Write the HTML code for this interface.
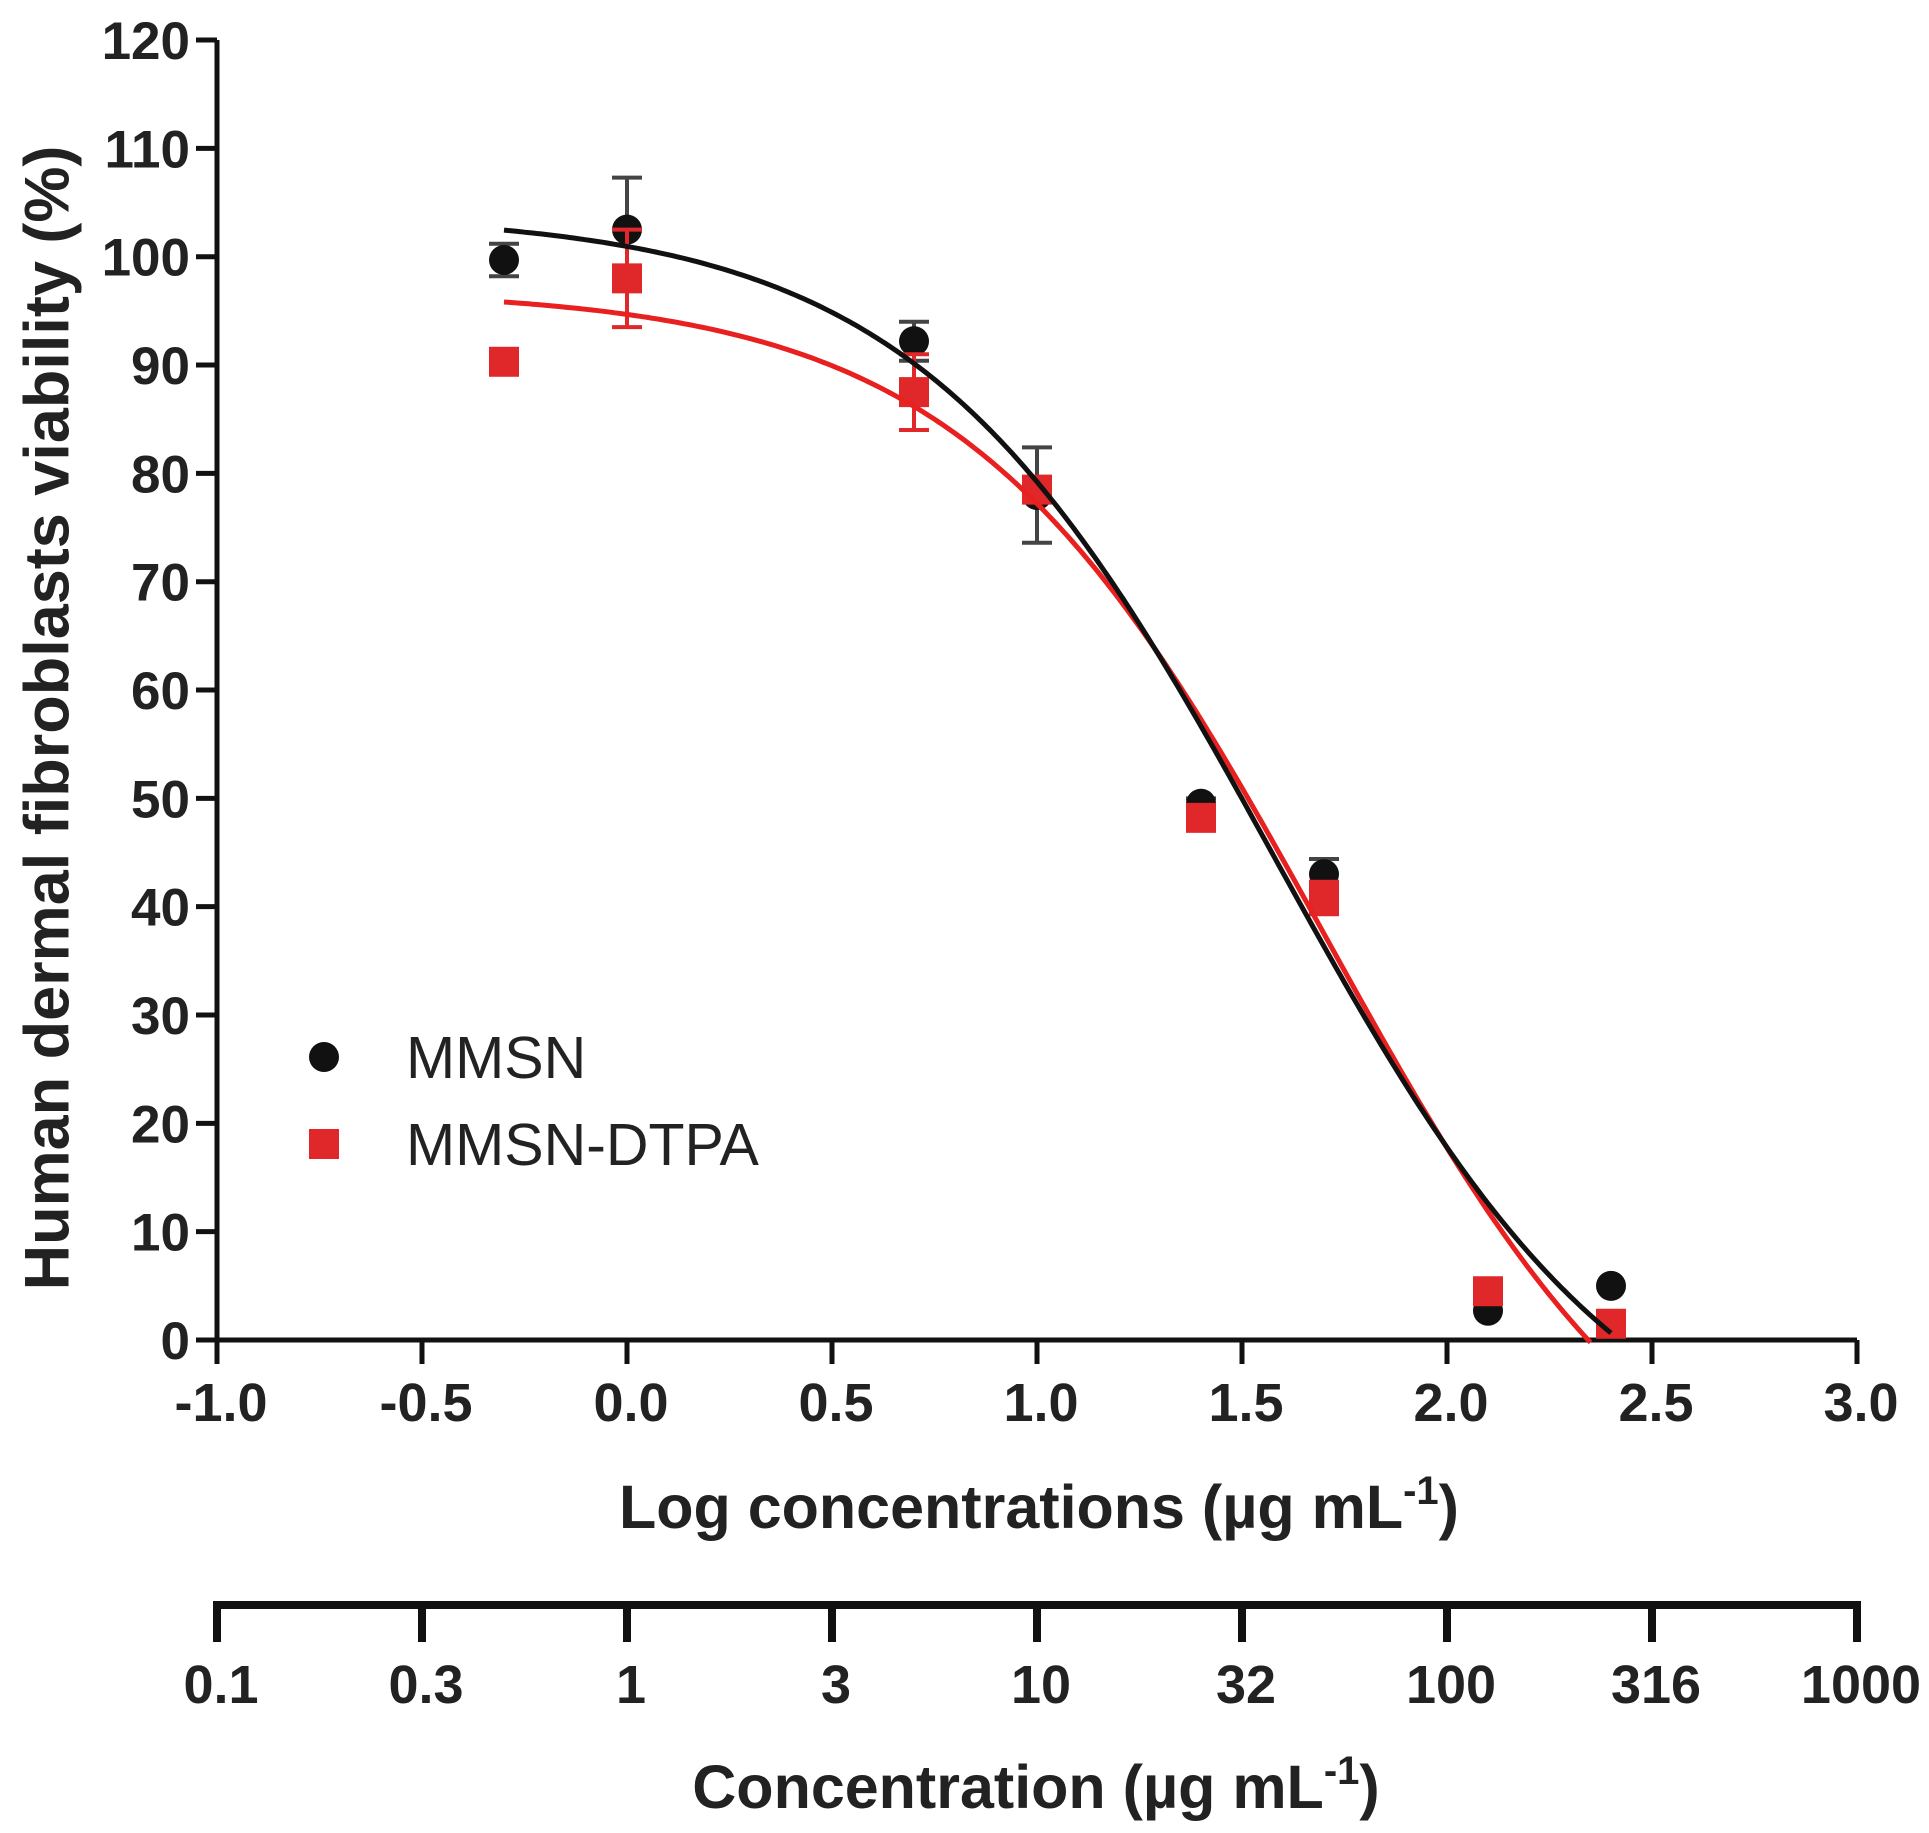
<!DOCTYPE html>
<html><head><meta charset="utf-8"><style>
html,body{margin:0;padding:0;background:#fff;}
svg{display:block;}
text{font-family:"Liberation Sans",Arial,sans-serif;}
</style></head><body>
<svg id="s" width="1929" height="1833" viewBox="0 0 1929 1833" xmlns="http://www.w3.org/2000/svg">
<rect width="1929" height="1833" fill="#fff"/>
<g id="g"></g>
<text x="52" y="718" transform="rotate(-90 52 718)" text-anchor="middle" dominant-baseline="middle" font-size="63" font-weight="bold" fill="#222">Human dermal fibroblasts viability (%)</text>
<text x="1039" y="1528" text-anchor="middle" font-size="61" font-weight="bold" fill="#222">Log concentrations (µg mL<tspan dy="-24" font-size="40">-1</tspan><tspan dy="24">)</tspan></text>
<text x="1036" y="1808" text-anchor="middle" font-size="61" font-weight="bold" fill="#222">Concentration (µg mL<tspan dy="-24" font-size="40">-1</tspan><tspan dy="24">)</tspan></text>
<circle cx="324" cy="1057" r="15" fill="#111"/>
<rect x="309" y="1129" width="30" height="30" fill="#e0282a"/>
<text x="406" y="1078" font-size="59" fill="#222">MMSN</text>
<text x="406" y="1165" font-size="59" fill="#222">MMSN-DTPA</text>
</svg>
<script>
var g=document.getElementById('g'),h='';
function X(v){return 217+(v+1)*410;}
function Y(v){return 1340-v*10.833;}
h+='<line x1="217" y1="40" x2="217" y2="1343" stroke="#111" stroke-width="5"/>';
for(var i=0;i<=12;i++){var y=Y(i*10);h+='<line x1="196" y1="'+y+'" x2="217" y2="'+y+'" stroke="#111" stroke-width="5"/>';
h+='<text x="190" y="'+(y+19)+'" text-anchor="end" font-size="53" font-weight="bold" fill="#222">'+(i*10)+'</text>';}
h+='<line x1="196" y1="1340" x2="1857" y2="1340" stroke="#111" stroke-width="5"/>';
var xl=['-1.0','-0.5','0.0','0.5','1.0','1.5','2.0','2.5','3.0'];
for(var i=0;i<9;i++){var x=X(-1+i*0.5);h+='<line x1="'+x+'" y1="1340" x2="'+x+'" y2="1364" stroke="#111" stroke-width="5"/>';
h+='<text x="'+(x+4)+'" y="1421" text-anchor="middle" font-size="54" font-weight="bold" fill="#222">'+xl[i]+'</text>';}
h+='<line x1="217" y1="1605" x2="1857" y2="1605" stroke="#111" stroke-width="8"/>';
var bl=['0.1','0.3','1','3','10','32','100','316','1000'];
for(var i=0;i<9;i++){var x=X(-1+i*0.5);h+='<line x1="'+x+'" y1="1601" x2="'+x+'" y2="1642" stroke="#111" stroke-width="8"/>';
h+='<text x="'+(x+4)+'" y="1703" text-anchor="middle" font-size="54" font-weight="bold" fill="#222">'+bl[i]+'</text>';}
function curve(t,b,x0,hh,x1,x2,c){var p='';for(var x=x1;x<=x2+1e-9;x+=0.01){var y=b+(t-b)/(1+Math.pow(10,(x-x0)*hh));p+=(p?'L':'M')+X(x).toFixed(1)+','+Y(y).toFixed(1);}
return '<path d="'+p+'" fill="none" stroke="'+c+'" stroke-width="5"/>';}
function eb(x,y,e,c){var xx=X(x),y1=Y(y+e),y2=Y(y-e);return '<line x1="'+xx+'" y1="'+y1+'" x2="'+xx+'" y2="'+y2+'" stroke="'+c+'" stroke-width="4"/><line x1="'+(xx-15)+'" y1="'+y1+'" x2="'+(xx+15)+'" y2="'+y1+'" stroke="'+c+'" stroke-width="4"/><line x1="'+(xx-15)+'" y1="'+y2+'" x2="'+(xx+15)+'" y2="'+y2+'" stroke="'+c+'" stroke-width="4"/>';}
var M=[[-0.3,99.7,1.5],[0,102.5,4.8],[0.7,92.2,1.8],[1,78,4.4],[1.4,49.5,0.5],[1.7,43,1.4],[2.1,2.7,0],[2.4,5,0]];
var D=[[-0.3,90.3,0],[0,98,4.5],[0.7,87.5,3.5],[1,78.5,1],[1.4,48.2,0.5],[1.7,40.8,1.5],[2.1,4.5,0],[2.4,1.5,0]];
M.forEach(function(d){if(d[2])h+=eb(d[0],d[1],d[2],'#444');});
M.forEach(function(d){h+='<circle cx="'+X(d[0])+'" cy="'+Y(d[1])+'" r="15" fill="#111"/>';});
D.forEach(function(d){if(d[2])h+=eb(d[0],d[1],d[2],'#e0282a');});
D.forEach(function(d){h+='<rect x="'+(X(d[0])-15)+'" y="'+(Y(d[1])-15)+'" width="30" height="30" fill="#e0282a"/>';});
h+=curve(97,-22,1.7,1,-0.3,2.35,'#e8201f');
h+=curve(104,-15,1.58,1,-0.3,2.4,'#111');
g.innerHTML=h;
</script>
</body></html>
